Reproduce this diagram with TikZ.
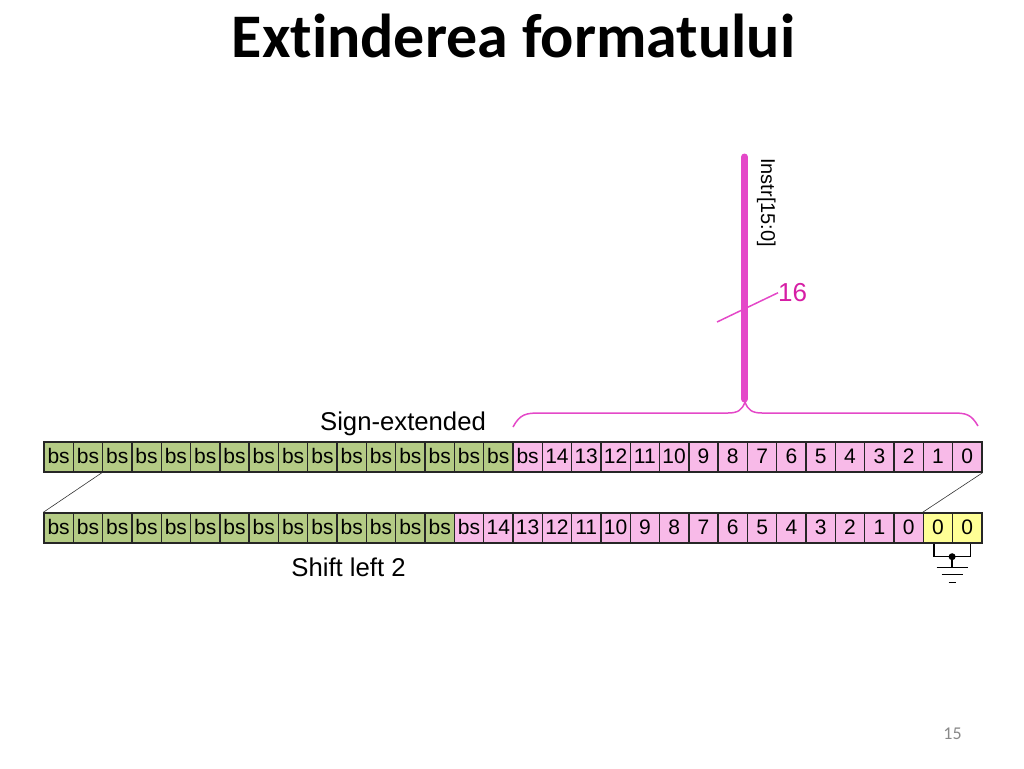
\documentclass[tikz,border=0pt]{standalone}
\usepackage{fontspec}
\setmainfont{Liberation Sans}
\newfontfamily\titlefont[Ligatures={NoCommon}]{Carlito}
\usetikzlibrary{calc}
\definecolor{bsgreen}{RGB}{180,203,133}
\definecolor{bitpink}{RGB}{248,186,232}
\definecolor{zeroyellow}{RGB}{255,255,150}
\definecolor{buspink}{RGB}{228,72,200}
\definecolor{widthmagenta}{RGB}{214,30,165}
\definecolor{pagegray}{RGB}{137,137,137}

\begin{document}
\begin{tikzpicture}[x=1pt, y=-1pt,
  cell/.style={draw=black!85, line width=1.4pt, minimum width=29.31pt, minimum height=30pt, inner sep=0pt, text height=15pt, text depth=1.5pt, font=\fontsize{21}{21}\selectfont},
  wire/.style={black!80, line width=0.6pt},
  gnd/.style={black, line width=1.3pt}]
  \useasboundingbox (0,0) rectangle (1024,768);

  \node[anchor=base, inner sep=0pt, font=\titlefont\bfseries\fontsize{62}{62}\selectfont] (title) at (513.5,57) {Extinderea formatului};

  % sign-extended word
  \foreach \i in {0,...,31} {
    \ifnum\i<16 \def\lbl{bs}\def\clr{bsgreen}
    \else\ifnum\i=16 \def\lbl{bs}\def\clr{bitpink}
    \else \pgfmathtruncatemacro\lbl{31-\i}\def\clr{bitpink}\fi\fi
    \node[cell, fill=\clr] (top-\i) at ({44+29.31*(\i+0.5)},457) {\lbl};
  }

  % shifted word
  \foreach \i in {0,...,31} {
    \ifnum\i<14 \def\lbl{bs}\def\clr{bsgreen}
    \else\ifnum\i=14 \def\lbl{bs}\def\clr{bitpink}
    \else\ifnum\i<30 \pgfmathtruncatemacro\lbl{29-\i}\def\clr{bitpink}
    \else \def\lbl{0}\def\clr{zeroyellow}\fi\fi\fi
    \node[cell, fill=\clr] (bot-\i) at ({44+29.31*(\i+0.5)},528) {\lbl};
  }

  \draw[wire] (top-2.south west) -- (bot-0.north west);
  \draw[wire] (top-31.south east) -- (bot-30.north west);

  \node[anchor=base, inner sep=0pt, font=\fontsize{25.7}{26}\selectfont] (sign-label) at (403,430) {Sign-extended};
  \node[anchor=base, inner sep=0pt, font=\fontsize{25.7}{26}\selectfont] (shift-label) at (348.5,576) {Shift left 2};

  % brace and bus
  \coordinate (brace-tip) at (745,402);
  \coordinate (bus-top) at (744.5,157);
  \draw[buspink, line width=1.5pt] (513,427) .. controls (520,414) and (526,413) .. (540,413) -- (728,413) .. controls (738,413) and (742,410) .. (brace-tip) .. controls (748,410) and (752,413) .. (762,413) -- (952,413) .. controls (966,413) and (971,414) .. (978,426);
  \draw[buspink, line width=7pt, line cap=round] (bus-top) -- (744.5,399);
  \node[anchor=base west, rotate=-90, inner sep=0pt, font=\fontsize{20}{20}\selectfont] (instr-label) at (761,158) {Instr[15:0]};
  \node[anchor=base west, inner sep=0pt, text=widthmagenta, font=\fontsize{26}{26}\selectfont] (bus-width) at (778,301.7) {16};
  \coordinate (slash-start) at (717,322);
  \draw[buspink, line width=1.5pt] (slash-start) -- (bus-width.west);

  % ground on the two new bits
  \coordinate (gnd-l) at ($(bot-30.south)+(-4,13)$);
  \coordinate (gnd-r) at ($(bot-31.south)+(3,13)$);
  \draw[gnd] ($(bot-30.south)+(-4,0)$) -- (gnd-l) -- (gnd-r) -- ($(bot-31.south)+(3,0)$);
  \coordinate (gnd-node) at ($(gnd-l)!0.5!(gnd-r)$);
  \fill (gnd-node) circle (3.5);
  \draw[gnd] (gnd-node) -- ++(0,11) coordinate (gnd-bar);
  \draw[gnd] ($(gnd-bar)+(-15.5,0)$) -- ($(gnd-bar)+(15.5,0)$);
  \draw[gnd] ($(gnd-bar)+(-10.5,7)$) -- ($(gnd-bar)+(10.5,7)$);
  \draw[gnd] ($(gnd-bar)+(-3.5,15)$) -- ($(gnd-bar)+(3.5,15)$);

  \node[anchor=base, inner sep=0pt, text=pagegray, font=\titlefont\fontsize{18}{18}\selectfont] (page-num) at (952.5,739) {15};
\end{tikzpicture}
\end{document}
